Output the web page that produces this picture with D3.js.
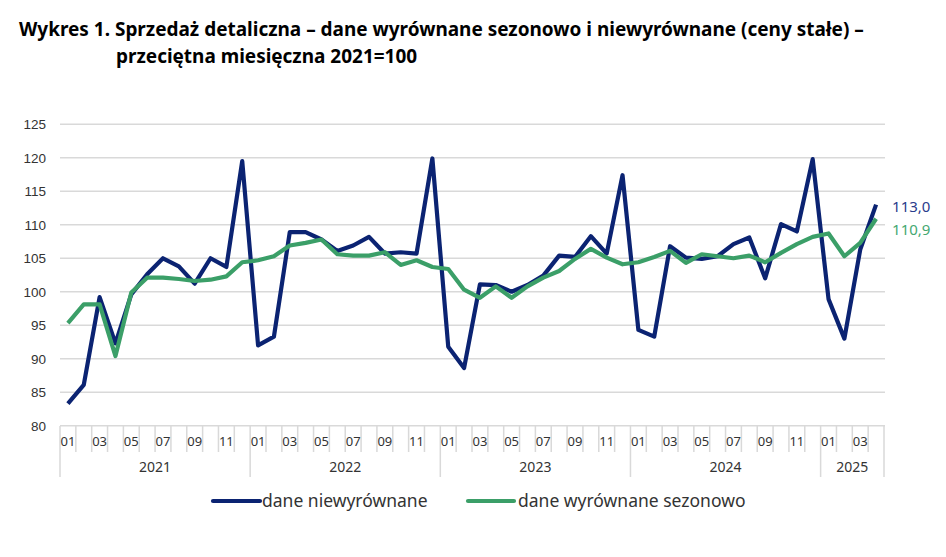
<!DOCTYPE html>
<html>
<head>
<meta charset="utf-8">
<script src="https://cdn.jsdelivr.net/npm/d3@7"></script>
<style>
  body { margin: 0; background: #fff; }
  svg { display: block; font-family: "Noto Sans", "Open Sans", sans-serif; }
</style>
</head>
<body>
<svg id="chart" width="946" height="557"></svg>
<script>
// --- data ---
var years = ['2021', '2022', '2023', '2024', '2025'];
var monthsPerYear = [12, 12, 12, 12, 4];
var monthLabels = ['01','02','03','04','05','06','07','08','09','10','11','12'];
var yTicks = [80, 85, 90, 95, 100, 105, 110, 115, 120, 125];

var niewyrownane = [
  83.3, 86.1, 99.2, 92.3, 99.6, 102.6, 105.0, 103.8, 101.2, 105.0, 103.7, 119.5,
  92.0, 93.3, 108.9, 108.9, 107.8, 106.1, 106.9, 108.2, 105.7, 105.9, 105.7, 119.9,
  91.8, 88.6, 101.1, 101.0, 100.0, 101.0, 102.4, 105.4, 105.2, 108.3, 105.7, 117.4,
  94.3, 93.3, 106.8, 105.1, 104.9, 105.3, 107.1, 108.1, 102.0, 110.1, 109.0, 119.8,
  98.9, 93.0, 106.3, 113.0
];
var wyrownane = [
  95.3, 98.1, 98.1, 90.4, 99.9, 102.1, 102.1, 101.9, 101.6, 101.8, 102.3, 104.4,
  104.7, 105.3, 106.9, 107.3, 107.8, 105.6, 105.4, 105.4, 105.9, 104.0, 104.7, 103.7,
  103.4, 100.3, 99.1, 100.8, 99.1, 100.8, 102.1, 103.1, 104.9, 106.4, 105.1, 104.1,
  104.4, 105.2, 106.1, 104.3, 105.6, 105.3, 105.0, 105.4, 104.4, 105.8, 107.1, 108.2,
  108.7, 105.3, 107.3, 110.9
];
var lastLabels = ['113,0', '110,9'];

// build category list (year, month)
var cats = [];
years.forEach(function(y, yi) {
  for (var m = 0; m < monthsPerYear[yi]; m++) {
    cats.push({ key: y + '-' + monthLabels[m], year: y, month: monthLabels[m], m: m });
  }
});

var blue = '#0b2372', green = '#3b9f68';
var svg = d3.select('#chart');

var x = d3.scaleBand().domain(cats.map(function(c) { return c.key; })).range([60, 884]).padding(0);
var y = d3.scaleLinear().domain([80, 125]).range([425.7, 124.3]);

// title
var title = svg.append('g').attr('font-weight', 'bold').attr('fill', '#000');
var t1 = title.append('text').attr('x', 19).attr('y', 36).attr('font-size', 18)
  .text('Wykres 1. Sprzedaż detaliczna – dane wyrównane sezonowo i niewyrównane (ceny stałe) –');
var w = t1.node().getComputedTextLength();
var fs = 18 * 845 / w;
t1.attr('font-size', fs);
title.append('text').attr('x', 116).attr('y', 63).attr('font-size', fs)
  .text('przeciętna miesięczna 2021=100');

// grid
svg.append('g').selectAll('line').data(yTicks).join('line')
  .attr('x1', 60).attr('x2', 885)
  .attr('y1', function(d) { return y(d); }).attr('y2', function(d) { return y(d); })
  .attr('stroke', '#d9d9d9').attr('stroke-width', 1.5);

// y axis labels
var yAxis = d3.axisLeft(y).tickValues(yTicks).tickSize(0).tickPadding(0);
var gy = svg.append('g').attr('transform', 'translate(46,0)').call(yAxis);
gy.select('.domain').remove();
gy.selectAll('text').attr('font-size', 13.5).attr('fill', '#333').style('font-family', 'inherit');

// x axis: category ticks, month labels, year labels
var gx = svg.append('g');
var yearStart = [];
cats.forEach(function(c, i) { if (c.m === 0) yearStart.push(i); });
var bounds = d3.range(cats.length + 1);
gx.selectAll('line.tk').data(bounds).join('line')
  .attr('x1', function(i) { return 60 + i * x.bandwidth(); })
  .attr('x2', function(i) { return 60 + i * x.bandwidth(); })
  .attr('y1', 426)
  .attr('y2', function(i) { return (yearStart.indexOf(i) >= 0 || i === cats.length) ? 477 : 452; })
  .attr('stroke', '#d9d9d9').attr('stroke-width', 1.5);

gx.selectAll('text.mo').data(cats.filter(function(c) { return c.m % 2 === 0; })).join('text')
  .attr('x', function(c) { return x(c.key) + x.bandwidth() / 2; })
  .attr('y', 446)
  .attr('text-anchor', 'middle').attr('font-size', 13).attr('fill', '#333')
  .text(function(c) { return c.month; });

gx.selectAll('text.yr').data(years).join('text')
  .attr('x', function(yr, yi) {
    var s = yearStart[yi], n = monthsPerYear[yi];
    return 60 + (s + n / 2) * x.bandwidth();
  })
  .attr('y', 472)
  .attr('text-anchor', 'middle').attr('font-size', 14).attr('fill', '#333')
  .text(function(d) { return d; });

// lines
var line = d3.line()
  .x(function(d, i) { return x(cats[i].key) + x.bandwidth() / 2; })
  .y(function(d) { return y(d); });

svg.append('path').datum(niewyrownane).attr('d', line)
  .attr('fill', 'none').attr('stroke', blue).attr('stroke-width', 4.2).attr('stroke-linejoin', 'round');
svg.append('path').datum(wyrownane).attr('d', line)
  .attr('fill', 'none').attr('stroke', green).attr('stroke-width', 4.2).attr('stroke-linejoin', 'round');

// end labels
var lastX = x(cats[cats.length - 1].key) + x.bandwidth() / 2;
svg.append('text').attr('x', lastX + 16).attr('y', y(niewyrownane[niewyrownane.length - 1]) + 7)
  .attr('font-size', 15).attr('fill', '#2a3c8c').text(lastLabels[0]);
svg.append('text').attr('x', lastX + 16).attr('y', y(wyrownane[wyrownane.length - 1]) + 16)
  .attr('font-size', 15).attr('fill', '#45a872').text(lastLabels[1]);

// legend
var leg = svg.append('g');
leg.append('line').attr('x1', 213).attr('x2', 260).attr('y1', 501).attr('y2', 501)
  .attr('stroke', blue).attr('stroke-width', 4.2).attr('stroke-linecap', 'round');
leg.append('text').attr('x', 262).attr('y', 507).attr('font-size', 17.5).attr('fill', '#333').text('dane niewyrównane');
leg.append('line').attr('x1', 468).attr('x2', 514).attr('y1', 501).attr('y2', 501)
  .attr('stroke', green).attr('stroke-width', 4.2).attr('stroke-linecap', 'round');
leg.append('text').attr('x', 518).attr('y', 507).attr('font-size', 17.5).attr('fill', '#333').text('dane wyrównane sezonowo');
</script>
</body>
</html>
